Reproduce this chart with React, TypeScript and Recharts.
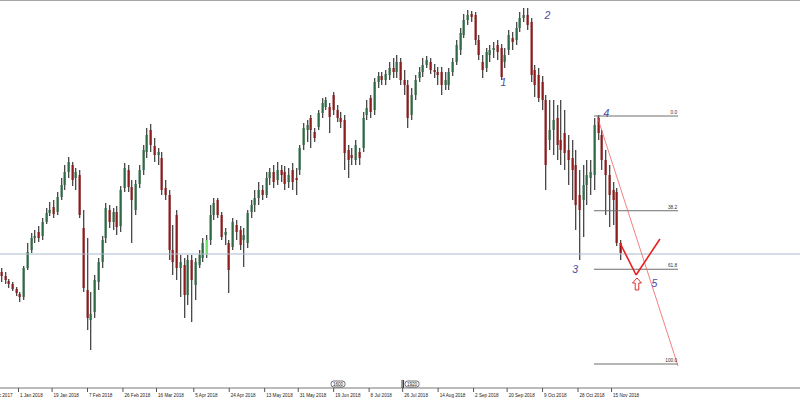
import React from "react";
import { ComposedChart, Bar, XAxis, YAxis, ReferenceLine, ReferenceDot } from "recharts";

// daily-ish candles, one every 2 days starting 22 Dec 2017 (day -9, day 0 = 1 Jan 2018)
const opens = [
  728, 724, 719, 716, 711, 706, 703, 732, 750, 762,
  768, 764, 778, 787, 793, 788, 803, 815, 828, 835,
  822, 825, 772, 710, 680, 688, 718, 738, 762, 790,
  778, 788, 774, 812, 830, 813, 790, 816, 830, 848,
  870, 854, 845, 842, 812, 805, 750, 785, 732, 735,
  705, 740, 715, 735, 742, 745, 760, 785, 800, 785,
  765, 757, 753, 775, 770, 760, 757, 788, 795, 802,
  810, 805, 822, 828, 820, 830, 828, 818, 830, 822,
  830, 855, 870, 882, 868, 873, 887, 893, 893, 905,
  890, 882, 880, 850, 845, 840, 848, 852, 885, 902,
  890, 918, 924, 920, 925, 932, 928, 938, 920, 915,
  885, 905, 922, 928, 935, 938, 930, 928, 928, 915,
  915, 928, 938, 950, 965, 980, 986, 985, 960, 938,
  932, 945, 950, 955, 952, 938, 950, 962, 960, 972,
  982, 985, 978, 930, 925, 918, 900, 860, 870, 882,
  860, 867, 850, 842, 835, 805, 800, 815, 822, 825,
  882, 865, 840, 825, 810, 808, 757,
];
const closes = [
  724, 720, 716, 711, 707, 703, 732, 748, 762, 764,
  762, 778, 787, 790, 786, 803, 815, 828, 838, 820,
  828, 785, 712, 682, 686, 720, 738, 760, 792, 778,
  788, 773, 810, 832, 813, 800, 816, 830, 850, 865,
  855, 845, 848, 810, 805, 750, 738, 732, 738, 705,
  740, 720, 738, 745, 757, 760, 785, 797, 785, 763,
  768, 730, 778, 768, 755, 765, 787, 795, 802, 810,
  805, 822, 828, 818, 830, 825, 816, 825, 818, 820,
  852, 872, 875, 870, 862, 887, 897, 900, 883, 890,
  882, 878, 847, 840, 842, 855, 842, 882, 892, 888,
  918, 924, 920, 926, 932, 928, 938, 920, 915, 882,
  905, 920, 928, 935, 940, 930, 928, 925, 915, 920,
  928, 938, 955, 967, 980, 985, 983, 960, 945, 930,
  948, 950, 952, 948, 923, 945, 965, 958, 972, 982,
  985, 975, 925, 915, 902, 900, 835, 870, 880, 855,
  850, 847, 840, 830, 795, 790, 815, 825, 828, 875,
  867, 840, 825, 805, 800, 757, 747,
];
const highs = [
  732, 728, 721, 718, 713, 708, 734, 757, 767, 770,
  774, 782, 792, 798, 800, 808, 822, 835, 843, 838,
  832, 830, 790, 762, 708, 725, 742, 764, 797, 795,
  792, 794, 814, 837, 835, 820, 820, 835, 855, 872,
  876, 862, 852, 848, 820, 810, 775, 790, 745, 742,
  745, 745, 742, 750, 762, 765, 795, 802, 802, 788,
  772, 760, 782, 780, 774, 772, 790, 800, 810, 818,
  815, 828, 832, 835, 838, 835, 834, 832, 837, 832,
  855, 877, 880, 885, 872, 890, 902, 903, 897, 908,
  895, 888, 885, 855, 852, 860, 852, 888, 900, 905,
  922, 928, 928, 930, 938, 942, 945, 942, 930, 920,
  912, 925, 933, 942, 944, 942, 936, 933, 933, 928,
  932, 942, 960, 972, 986, 990, 989, 988, 965, 945,
  952, 955, 958, 960, 956, 952, 970, 968, 978, 988,
  992, 992, 982, 935, 932, 924, 905, 900, 900, 895,
  900, 890, 865, 860, 850, 830, 835, 840, 840, 882,
  885, 870, 850, 835, 818, 812, 760,
];
const lows = [
  718, 716, 712, 709, 704, 698, 700, 730, 747, 757,
  758, 760, 776, 784, 782, 785, 800, 810, 822, 814,
  810, 782, 708, 670, 650, 682, 710, 732, 757, 772,
  770, 765, 768, 808, 808, 757, 785, 812, 825, 842,
  848, 838, 835, 805, 800, 740, 725, 720, 703, 682,
  695, 678, 700, 732, 738, 742, 755, 780, 782, 760,
  755, 707, 750, 760, 750, 733, 752, 782, 788, 795,
  800, 802, 815, 812, 815, 818, 810, 812, 810, 805,
  825, 850, 858, 852, 858, 870, 882, 890, 867, 885,
  878, 872, 830, 822, 835, 835, 835, 848, 880, 882,
  885, 912, 915, 915, 920, 922, 922, 915, 905, 872,
  880, 900, 918, 923, 932, 926, 922, 915, 905, 910,
  910, 924, 935, 945, 962, 975, 978, 955, 940, 922,
  928, 938, 942, 940, 920, 932, 945, 950, 955, 968,
  978, 970, 918, 903, 898, 890, 810, 850, 845, 840,
  835, 830, 815, 800, 770, 740, 763, 795, 805, 810,
  860, 830, 785, 773, 775, 754, 740,
];
const limeBars = [55];

const tickDays = [-18, 0, 18, 37, 56, 74, 94, 113, 132, 150, 169, 188, 206, 225, 244, 262, 281, 300, 318];
const tickLabels = [
  "14 Dec 2017", "1 Jan 2018", "19 Jan 2018", "7 Feb 2018", "26 Feb 2018", "16 Mar 2018",
  "5 Apr 2018", "24 Apr 2018", "13 May 2018", "31 May 2018", "19 Jun 2018", "8 Jul 2018",
  "26 Jul 2018", "14 Aug 2018", "2 Sep 2018", "20 Sep 2018", "9 Oct 2018", "28 Oct 2018", "15 Nov 2018",
];

const hLineLevel = 746;
const fibHigh = 884;
const fibLow = 636;
const fibLevels = [0, 38.2, 61.8, 100];
const fibStart = 308.8;
const fibEnd = 353.9;

const waveLabels = ["1", "2", "3", "4", "5"];
const waveDays = [260.3, 283.9, 298.7, 315.5, 341.3];
const waveValues = [918, 985, 731, 887, 717];

const zigDays = [322.8, 331.4, 344.2];
const zigValues = [757, 725, 761];

const data = opens.map((o, i) => ({
  day: -9 + 2 * i,
  open: o,
  close: closes[i],
  high: Math.max(highs[i], o, closes[i]),
  low: Math.min(lows[i], o, closes[i]),
  lime: limeBars.includes(i),
}));

const Candle = (props: any) => {
  const { x, y, width, height, payload } = props;
  const top = Math.min(y, y + height);
  const h = Math.abs(height);
  const span = payload.high - payload.low || 1;
  const py = (v: number) => top + ((payload.high - v) / span) * h;
  const cx = Math.round(x + width / 2) + 0.5;
  const up = payload.close > payload.open;
  const bTop = py(Math.max(payload.open, payload.close));
  const bBot = py(Math.min(payload.open, payload.close));
  const color = payload.lime ? "#6fe06a" : up ? "#2f6a47" : "#8c1c1c";
  return (
    <g>
      <rect x={cx} y={top} width={1.5} height={h} fill="#c4c4c4" />
      <line x1={cx} x2={cx} y1={top} y2={top + h} stroke="#4a4a4a" strokeWidth={1} />
      <rect x={cx - 1} y={bTop} width={2.2} height={Math.max(bBot - bTop, 1)} fill={color} />
    </g>
  );
};

const DateTick = (props: any) => {
  const { x, y, payload } = props;
  const i = tickDays.indexOf(payload.value);
  return (
    <g>
      <line x1={x + 0.5} x2={x + 0.5} y1={y} y2={y + 4} stroke="#555" />
      <text x={x + 2} y={y + 8.5} fontSize={4.6} fill="#222" fontFamily="Liberation Sans, Arial" textAnchor="start">
        {tickLabels[i]}
      </text>
    </g>
  );
};

const arrowShape = (p: any) => {
  const { cx, cy } = p;
  const pts = [
    [0, 0], [-4.5, 5], [-1.8, 5], [-1.8, 12], [1.8, 12], [1.8, 5], [4.5, 5],
  ].map(([a, b]) => `${cx + a},${cy + b}`).join(" ");
  return <polygon points={pts} fill="#fff" stroke="#e03030" strokeWidth={1} />;
};

const markerBox = (text: string, bars: boolean) => (p: any) => {
  const { cx, cy } = p;
  return (
    <g>
      {bars && <line x1={cx - 10} x2={cx - 10} y1={cy - 4} y2={cy + 4} stroke="#333" />}
      {bars && <line x1={cx - 8.5} x2={cx - 8.5} y1={cy - 4} y2={cy + 4} stroke="#333" />}
      <rect x={cx - 7} y={cy - 3} width={14} height={6} rx={2.5} fill="#fff" stroke="#333" strokeWidth={0.7} />
      <text x={cx} y={cy + 1.7} fontSize={4.6} textAnchor="middle" fill="#222" fontFamily="Liberation Sans, Arial">
        {text}
      </text>
    </g>
  );
};

export default function App() {
  return (
    <div style={{ position: "absolute", left: 0, top: 0, width: 800, height: 400, background: "#fff" }}>
      <ComposedChart width={800} height={400} data={data} margin={{ top: 0, right: 0, bottom: 0, left: 0 }}>
        <XAxis
          type="number"
          dataKey="day"
          domain={[-9.65, 419.3]}
          allowDataOverflow
          ticks={tickDays}
          interval={0}
          tick={<DateTick />}
          tickLine={false}
          tickSize={0}
          tickMargin={0}
          axisLine={{ stroke: "#777" }}
          height={12}
        />
        <YAxis hide domain={[612, 1000]} allowDataOverflow />
        <ReferenceLine y={1000} stroke="#888" strokeWidth={1.5} />
        <ReferenceLine y={hLineLevel} stroke="#a9b8cd" strokeWidth={1} />
        <Bar dataKey={(d: any) => [d.low, d.high]} barSize={3} shape={<Candle />} isAnimationActive={false} />
        {fibLevels.map((lv) => {
          const v = fibHigh - ((fibHigh - fibLow) * lv) / 100;
          return (
            <ReferenceLine
              key={`fl${lv}`}
              segment={[{ x: fibStart, y: v }, { x: fibEnd, y: v }]}
              stroke="#6e6e6e"
              strokeWidth={1}
              ifOverflow="visible"
            />
          );
        })}
        {fibLevels.map((lv) => {
          const v = fibHigh - ((fibHigh - fibLow) * lv) / 100;
          return (
            <ReferenceDot
              key={`ft${lv}`}
              x={fibEnd - 0.4}
              y={v}
              ifOverflow="visible"
              shape={(p: any) => (
                <text x={p.cx} y={p.cy - 1.8} fontSize={4.8} textAnchor="end" fill="#333" fontFamily="Liberation Sans, Arial">
                  {lv.toFixed(1)}
                </text>
              )}
            />
          );
        })}
        <ReferenceLine
          segment={[{ x: 310.5, y: fibHigh }, { x: fibEnd, y: 634 }]}
          stroke="#f06060"
          strokeWidth={0.8}
          ifOverflow="visible"
        />
        {zigDays.slice(0, -1).map((d, i) => (
          <ReferenceLine
            key={`z${i}`}
            segment={[{ x: d, y: zigValues[i] }, { x: zigDays[i + 1], y: zigValues[i + 1] }]}
            stroke="#e82020"
            strokeWidth={1.6}
            ifOverflow="visible"
          />
        ))}
        <ReferenceDot x={331.9} y={722} ifOverflow="visible" shape={arrowShape} />
        {waveLabels.map((t, i) => (
          <ReferenceDot
            key={`w${t}`}
            x={waveDays[i]}
            y={waveValues[i]}
            ifOverflow="visible"
            shape={(p: any) => (
              <text x={p.cx} y={p.cy + 3.5} fontSize={10.5} fontStyle="italic" textAnchor="middle" fill="#4a4aa6" fontFamily="Liberation Sans, Arial">
                {t}
              </text>
            )}
          />
        ))}
        <ReferenceDot x={171.6} y={616} ifOverflow="visible" shape={markerBox("1600", false)} />
        <ReferenceDot x={211.3} y={616} ifOverflow="visible" shape={markerBox("1920", true)} />
      </ComposedChart>
    </div>
  );
}
